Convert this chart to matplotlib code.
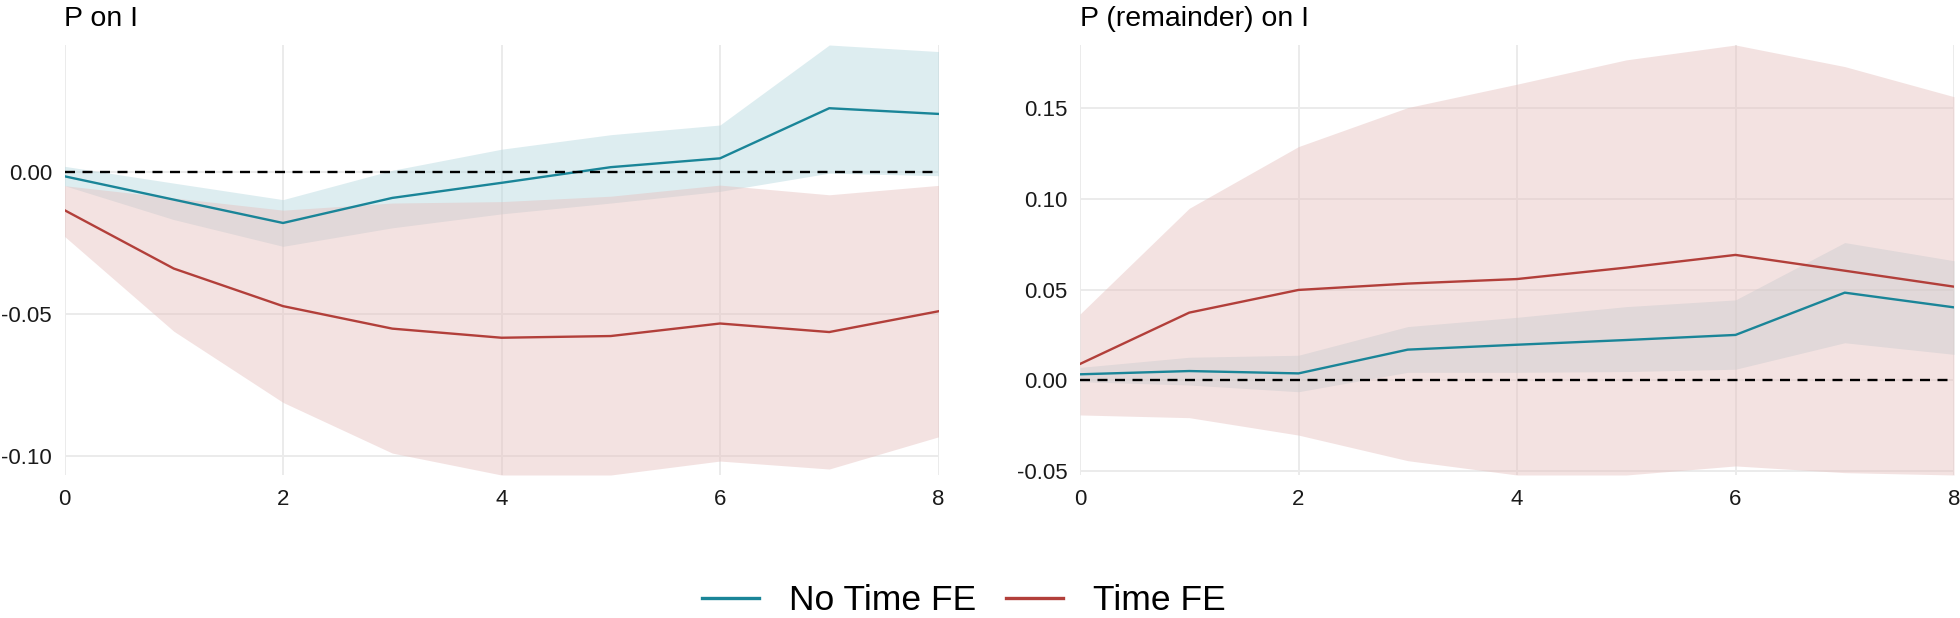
import matplotlib
matplotlib.use("Agg")
import matplotlib.pyplot as plt
from matplotlib.ticker import FuncFormatter, MultipleLocator
from matplotlib.lines import Line2D

plt.rcParams['font.family'] = ['Liberation Sans', 'DejaVu Sans']
plt.rcParams['lines.scale_dashes'] = False

horizon = [0, 1, 2, 3, 4, 5, 6, 7, 8]

# Panel 1: P on I
p1_nofe = [-0.0016, -0.0098, -0.0180, -0.0092, -0.0039, 0.0016, 0.0047, 0.0223, 0.0203]
p1_nofe_hi = [0.0019, -0.0040, -0.0098, 0.0005, 0.0079, 0.0130, 0.0164, 0.0445, 0.0422]
p1_nofe_lo = [-0.0049, -0.0168, -0.0262, -0.0197, -0.0148, -0.0110, -0.0069, -0.0005, -0.0014]
p1_fe = [-0.0135, -0.0340, -0.0472, -0.0551, -0.0583, -0.0577, -0.0533, -0.0563, -0.0490]
p1_fe_hi = [-0.0049, -0.0092, -0.0135, -0.0110, -0.0105, -0.0086, -0.0047, -0.0081, -0.0048]
p1_fe_lo = [-0.0227, -0.0560, -0.0810, -0.0988, -0.1065, -0.1065, -0.1016, -0.1044, -0.0931]

# Panel 2: P (remainder) on I
p2_nofe = [0.0033, 0.0051, 0.0038, 0.0169, 0.0196, 0.0222, 0.0250, 0.0483, 0.0402]
p2_nofe_hi = [0.0071, 0.0127, 0.0138, 0.0296, 0.0347, 0.0406, 0.0443, 0.0759, 0.0659]
p2_nofe_lo = [-0.0008, -0.0026, -0.0063, 0.0044, 0.0044, 0.0048, 0.0061, 0.0207, 0.0143]
p2_fe = [0.0090, 0.0373, 0.0498, 0.0533, 0.0558, 0.0621, 0.0691, 0.0604, 0.0516]
p2_fe_hi = [0.0365, 0.0948, 0.1288, 0.1503, 0.1632, 0.1766, 0.1848, 0.1729, 0.1563]
p2_fe_lo = [-0.0191, -0.0206, -0.0302, -0.0443, -0.0522, -0.0522, -0.0472, -0.0509, -0.0522]

titles = ["P on I", "P (remainder) on I"]
series_labels = ["No Time FE", "Time FE"]
x_ticks = [0, 2, 4, 6, 8]

BLUE = "#1A8598"
RED = "#B23F3A"
BLUE_FILL = "#B4D8DF"
RED_FILL = "#E6BFBD"
ALPHA = 0.45
GRID = "#EBEBEB"

W, H = 1960, 618
fig = plt.figure(figsize=(W / 100, H / 100), dpi=100)

panel_top = 45
panel_bot = 475
panels_x = [(64.5, 938.5), (1080, 1954)]

panels = [
    (p1_nofe, p1_nofe_lo, p1_nofe_hi, p1_fe, p1_fe_lo, p1_fe_hi),
    (p2_nofe, p2_nofe_lo, p2_nofe_hi, p2_fe, p2_fe_lo, p2_fe_hi),
]

fmt = FuncFormatter(lambda v, p: ("%.2f" % v).replace("\u2212", "-"))

for i, (data, (x0, x1)) in enumerate(zip(panels, panels_x)):
    nofe, nofe_lo, nofe_hi, fe, fe_lo, fe_hi = data
    ax = fig.add_axes([x0 / W, 1 - panel_bot / H, (x1 - x0) / W, (panel_bot - panel_top) / H])
    ax.set_facecolor("white")
    ax.fill_between(horizon, nofe_lo, nofe_hi, color=BLUE_FILL, alpha=ALPHA, lw=0, zorder=2)
    ax.fill_between(horizon, fe_lo, fe_hi, color=RED_FILL, alpha=ALPHA, lw=0, zorder=2)
    ax.plot(horizon, nofe, color=BLUE, lw=1.7, zorder=3, solid_joinstyle='round')
    ax.plot(horizon, fe, color=RED, lw=1.7, zorder=3, solid_joinstyle='round')
    ax.axhline(0, color="black", lw=1.7, linestyle=(0, (7.2, 5.4)), zorder=4)

    ymin = min(min(nofe_lo), min(fe_lo))
    ymax = max(max(nofe_hi), max(fe_hi))
    ax.set_ylim(ymin, ymax)
    ax.set_xlim(horizon[0], horizon[-1])
    ax.set_xticks(x_ticks)
    ax.yaxis.set_major_locator(MultipleLocator(0.05))
    ax.yaxis.set_major_formatter(fmt)
    ax.grid(True, color=GRID, lw=1.4, zorder=0)
    ax.set_axisbelow(True)
    for s in ax.spines.values():
        s.set_visible(False)
    ax.tick_params(axis='both', length=0, labelsize=16, colors="#1a1a1a")
    ax.tick_params(axis='y', pad=9)
    ax.tick_params(axis='x', pad=10)
    ax.set_title(titles[i], loc='left', fontsize=20.5, pad=14, color="black")

handles = [Line2D([0], [0], color=BLUE, lw=2.4), Line2D([0], [0], color=RED, lw=2.4)]
fig.legend(handles, series_labels, loc='center', bbox_to_anchor=(964 / W, 1 - 601 / H),
           ncol=2, frameon=False, fontsize=25.5, handlelength=1.6, handletextpad=0.85,
           columnspacing=0.85)

fig.savefig("out.png", dpi=100, facecolor="white")
